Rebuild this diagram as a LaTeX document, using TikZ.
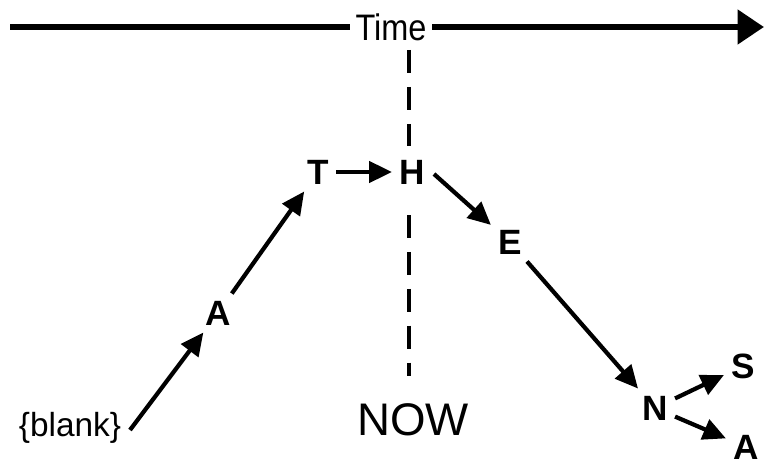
\documentclass[tikz,border=0pt]{standalone}
\usepackage{fontspec}
\setmainfont{Liberation Sans}
\usetikzlibrary{arrows.meta}
\tikzset{
  letter/.style={font=\fontsize{20}{24}\selectfont\bfseries, inner sep=4pt},
  step arrow/.style={line width=2.4pt, -{Triangle[length=13pt,width=12pt]}},
  time arrow/.style={line width=3.6pt, -{Triangle[length=15pt,width=19pt]}},
  now line/.style={line width=2.4pt, dash pattern=on 13pt off 8pt}
}
\begin{document}
\begin{tikzpicture}[x=0.02cm,y=-0.02cm]
  \useasboundingbox (0,0) rectangle (764,466);

  %Time axis
  \node[font=\fontsize{21}{24}\selectfont, inner sep=3pt] (time) at (391,27) {\scalebox{0.88}[1]{Time}};
  \coordinate (tstart) at (10,27);
  \coordinate (tend) at (764,27);
  \draw[line width=3.6pt] (tstart) -- (time.west);
  \draw[time arrow] (time.east) -- (tend);

  %Letters
  \node[letter] (blank) at (70,428) {\mdseries\fontsize{19}{23}\selectfont\{blank\}};
  \node[letter] (a1) at (218,313) {A};
  \node[letter] (t) at (318,172) {T};
  \node[letter] (h) at (412,172) {H};
  \node[letter] (e) at (510,242) {E};
  \node[letter] (n) at (655,408) {N};
  \node[letter] (s) at (743,366) {S};
  \node[letter] (a2) at (746,447) {A};

  %NOW line
  \node[font=\fontsize{26}{30}\selectfont] (now) at (413,420) {NOW};
  \coordinate (nowtop) at (409,50);
  \coordinate (nowmid1) at (409,146);
  \coordinate (nowmid2) at (409,215);
  \coordinate (nowbot) at (409,376);
  \draw[now line] (nowtop) -- (nowmid1);
  \draw[now line] (nowmid2) -- (nowbot);

  %Word path
  \coordinate (bstart) at (130,430);
  \coordinate (hout) at (434,174);
  \draw[step arrow] (bstart) -- (a1);
  \draw[step arrow] (a1) -- (t);
  \draw[step arrow] (t) -- (h);
  \draw[step arrow] (hout) -- (e);
  \draw[step arrow] (e) -- (n);
  \draw[step arrow] (n) -- (s);
  \draw[step arrow] (n) -- (a2);

\end{tikzpicture}
\end{document}
